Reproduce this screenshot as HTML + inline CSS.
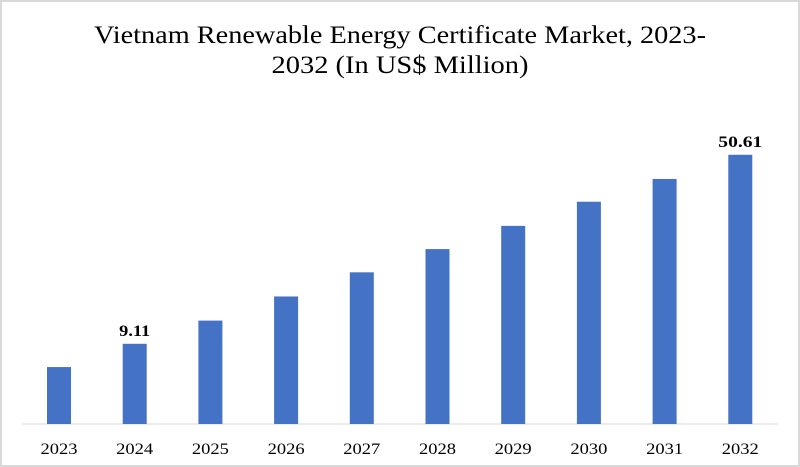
<!DOCTYPE html>
<html><head><meta charset="utf-8"><style>
body{margin:0;background:#fff}
#wrap{position:relative;width:800px;height:467px;box-sizing:border-box;border:2px solid #d9d9d9;background:#fff;overflow:hidden}
svg text{font-family:"Liberation Serif",serif}
</style></head><body>
<div id="wrap">
<svg id="chart" width="796" height="463" style="position:absolute;left:0;top:0">
<text x="398" y="41" text-anchor="middle" font-size="25" textLength="612" lengthAdjust="spacingAndGlyphs" fill="#000">Vietnam Renewable Energy Certificate Market, 2023-</text>
<text x="398" y="71" text-anchor="middle" font-size="25" textLength="257" lengthAdjust="spacingAndGlyphs" fill="#000">2032 (In US$ Million)</text>
</svg>
</div>
<script>
const categories=["2023","2024","2025","2026","2027","2028","2029","2030","2031","2032"];
const values=[4.0,9.11,14.2,19.5,24.8,29.9,35.0,40.3,45.3,50.61];
const labelShown=[false,true,false,false,false,false,false,false,false,true];
const labelText=["","9.11","","","","","","","","50.61"];
const yMin=-8.5,yMax=60;
const ns="http://www.w3.org/2000/svg";
const svg=document.getElementById('chart');
const baseY=422, plotTop=110;
function y(v){return baseY-(v-yMin)/(yMax-yMin)*(baseY-plotTop);}
function x(i){return 57+i*75.7;}
const bw=24;
const axis=document.createElementNS(ns,'line');
axis.setAttribute('x1',20);axis.setAttribute('x2',776);axis.setAttribute('y1',baseY);axis.setAttribute('y2',baseY);
axis.setAttribute('stroke','#d9d9d9');axis.setAttribute('stroke-width','1');


svg.appendChild(axis);
categories.forEach((c,i)=>{
  const r=document.createElementNS(ns,'rect');
  const top=y(values[i]);
  r.setAttribute('x',x(i)-bw/2);r.setAttribute('y',top);r.setAttribute('width',bw);r.setAttribute('height',baseY-top);
  r.setAttribute('fill','#4472c4');
  
  
  svg.appendChild(r);
  const t=document.createElementNS(ns,'text');
  t.setAttribute('x',x(i));t.setAttribute('y',452);t.setAttribute('text-anchor','middle');t.setAttribute('font-size','16');
  t.setAttribute('textLength','37');t.setAttribute('lengthAdjust','spacingAndGlyphs');
  t.textContent=c;
  
  
  svg.appendChild(t);
  if(labelShown[i]){
    const l=document.createElementNS(ns,'text');
    l.setAttribute('x',x(i));l.setAttribute('y',top-8);l.setAttribute('text-anchor','middle');l.setAttribute('font-size','16');l.setAttribute('font-weight','bold');
    l.setAttribute('textLength',labelText[i].length>4?'44':'31');l.setAttribute('lengthAdjust','spacingAndGlyphs');
    l.textContent=labelText[i];
    
    
    svg.appendChild(l);
  }
});
</script>
</body></html>
